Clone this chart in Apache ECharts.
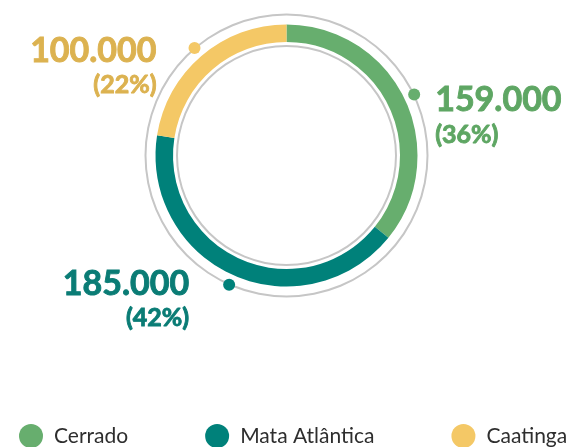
<!doctype html>
<html lang="pt">
<head>
    <meta charset="UTF-8">
    <script src="https://cdn.jsdelivr.net/npm/echarts@6/dist/echarts.min.js"></script>
    <title>Biomas</title>
    <style>
        html, body { margin: 0; padding: 0; background: #fff; }
    </style>
</head>
<body>
<div id="main" style="width: 572px;height:447px;"></div>
<script>
    // dados
    var names = ['Cerrado', 'Mata Atlântica', 'Caatinga'];
    var values = [159000, 185000, 100000];
    var percents = [36, 42, 22];
    var colors = ['#67ae6e', '#00817a', '#f4c866'];
    var labelColors = ['#5ea663', '#0a7c75', '#dcb250'];

    var center = [286.5, 155.5];
    var total = values.reduce(function (a, b) { return a + b; }, 0);

    function fmt(v) {
        return String(v).replace(/\B(?=(\d{3})+(?!\d))/g, '.');
    }

    // posição dos rótulos (lado e deslocamento)
    var labelPos = ['right', 'left', 'left'];
    var labelOffset = [[10, 21], [-29, 14], [-27, 18]];

    var ringData = [];
    var dotData = [];
    var acc = 0;
    for (var i = 0; i < values.length; i++) {
        ringData.push({ name: names[i], value: values[i], itemStyle: { color: colors[i] } });
        var mid = acc + values[i] / 2;
        acc += values[i];
        var al = labelPos[i] === 'right' ? 'left' : 'right';
        var txt = { fontFamily: 'Lato', fontWeight: 'bold', color: labelColors[i], align: al,
            textBorderColor: labelColors[i], textBorderWidth: 0.9 };
        dotData.push({
            value: [141.5, mid],
            itemStyle: { color: colors[i], opacity: 1 },
            label: {
                show: true,
                position: labelPos[i],
                offset: labelOffset[i],
                align: al,
                opacity: 1,
                formatter: '{v|' + fmt(values[i]) + '}\n{p|(' + percents[i] + '%)}',
                rich: {
                    v: Object.assign({ fontSize: 34, lineHeight: 38 }, txt),
                    p: Object.assign({ fontSize: 25, lineHeight: 30 }, txt)
                }
            }
        });
    }

    var myChart = echarts.init(document.getElementById('main'));

    var option = {
        animation: false,
        legend: {
            data: names,
            left: 19,
            top: 424,
            padding: 0,
            width: 700,
            icon: 'circle',
            itemWidth: 24,
            itemHeight: 24,
            itemGap: 77,
            selectedMode: false,
            textStyle: { fontFamily: 'Lato', fontSize: 21, lineHeight: 22, color: '#2e2e2e', padding: [0, 0, 0, 6] }
        },
        polar: { center: center, radius: 142 },
        angleAxis: {
            type: 'value', min: 0, max: total, startAngle: 90, clockwise: true,
            axisLine: { show: false }, axisTick: { show: false }, axisLabel: { show: false }, splitLine: { show: false }
        },
        radiusAxis: {
            type: 'value', min: 0, max: 142,
            axisLine: { show: false }, axisTick: { show: false }, axisLabel: { show: false }, splitLine: { show: false }
        },
        series: [
            {
                // circulo cinza externo
                type: 'pie', center: center, radius: [140, 142], silent: true,
                label: { show: false }, labelLine: { show: false },
                data: [{ value: 1, itemStyle: { color: '#c6c6c6' } }]
            },
            {
                // circulo cinza interno
                type: 'pie', center: center, radius: [108.5, 110.5], silent: true,
                label: { show: false }, labelLine: { show: false },
                data: [{ value: 1, itemStyle: { color: '#c6c6c6' } }]
            },
            {
                type: 'pie', center: center, radius: [113.5, 131], startAngle: 90, silent: true,
                label: { show: false }, labelLine: { show: false },
                data: ringData
            },
            {
                type: 'scatter', coordinateSystem: 'polar', symbolSize: 12, silent: true, z: 5,
                data: dotData
            }
        ]
    };

    myChart.setOption(option);
</script>
</body>
</html>
